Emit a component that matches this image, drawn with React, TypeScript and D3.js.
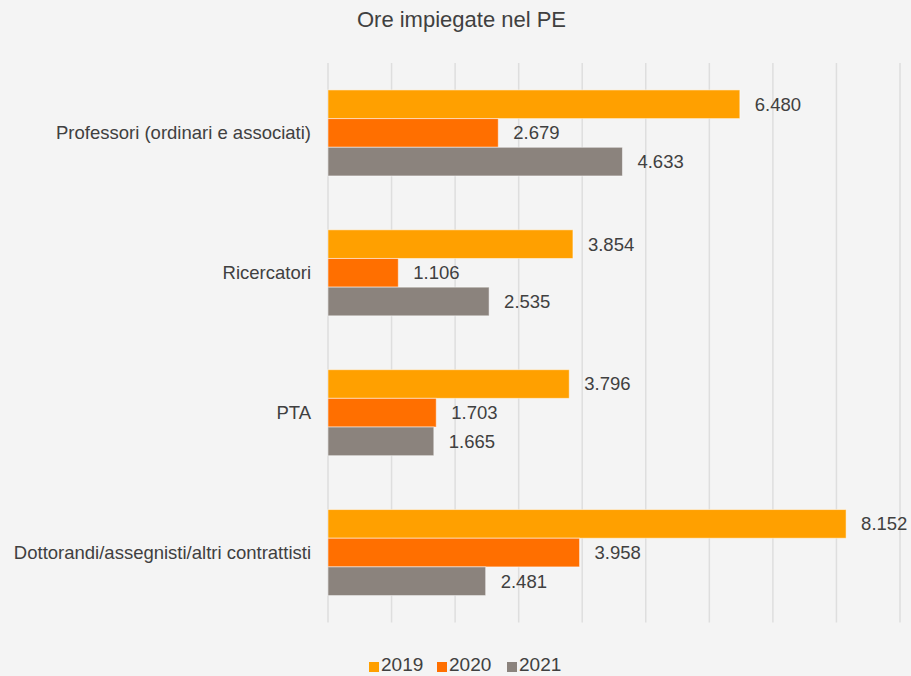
import React from "react";
import { scaleLinear, scaleBand, range } from "d3";

const categories = [
  "Professori (ordinari e associati)",
  "Ricercatori",
  "PTA",
  "Dottorandi/assegnisti/altri contrattisti",
];
const years = ["2019", "2020", "2021"];
const values2019 = [6480, 3854, 3796, 8152];
const values2020 = [2679, 1106, 1703, 3958];
const values2021 = [4633, 2535, 1665, 2481];
const xTicks = range(0, 10000, 1000);

const colors = ["#ffa000", "#ff6f00", "#8b837d"];

const W = 911;
const H = 676;
const left = 328;
const right = 900;
const top = 63;
const bottom = 622.5;

const fmt = (v: number) => {
  const s = String(v);
  return s.length > 3 ? s.slice(0, s.length - 3) + "." + s.slice(-3) : s;
};

export default function App() {
  const series = [values2019, values2020, values2021];

  const x = scaleLinear().domain([0, 9000]).range([left, right]);
  const y0 = scaleBand()
    .domain(categories)
    .range([top, bottom])
    .paddingInner(0.385)
    .paddingOuter(0.1925);
  const y1 = scaleBand().domain(years).range([0, y0.bandwidth()]);

  const font = "'Liberation Sans', Arial, sans-serif";

  return (
    <>
      <style>{"body{margin:0}"}</style>
      <svg width={W} height={H} style={{ display: "block", fontFamily: font }}>
        <rect width={W} height={H} fill="#f4f4f4" />
        <text x={461.5} y={27} textAnchor="middle" fontSize={22} fill="#404040">
          Ore impiegate nel PE
        </text>

        {xTicks.map((t) => (
          <line
            key={t}
            x1={x(t)}
            x2={x(t)}
            y1={top}
            y2={bottom}
            stroke="#dedede"
            strokeWidth={1.5}
          />
        ))}

        {categories.map((c, ci) => (
          <g key={c} transform={`translate(0,${y0(c)})`}>
            <text
              x={311}
              y={y0.bandwidth() / 2}
              dy="0.35em"
              textAnchor="end"
              fontSize={18.5}
              fill="#404040"
            >
              {c}
            </text>
            {years.map((yr, si) => {
              const v = series[si][ci];
              const yy = y1(yr) as number;
              return (
                <g key={yr}>
                  <rect
                    x={x(0)}
                    y={yy}
                    width={x(v) - x(0)}
                    height={y1.bandwidth()}
                    fill={colors[si]}
                    stroke="#ffffff"
                    strokeOpacity={0.5}
                    strokeWidth={1}
                  />
                  <text
                    x={x(v) + 15}
                    y={yy + y1.bandwidth() / 2}
                    dy="0.35em"
                    fontSize={18.5}
                    fill="#404040"
                  >
                    {fmt(v)}
                  </text>
                </g>
              );
            })}
          </g>
        ))}

        {years.map((yr, i) => {
          const lx = [369, 437, 507][i];
          return (
            <g key={yr}>
              <rect x={lx} y={662} width={10} height={10} fill={colors[i]} />
              <text x={lx + 12} y={671} fontSize={19} fill="#404040">
                {yr}
              </text>
            </g>
          );
        })}
      </svg>
    </>
  );
}
